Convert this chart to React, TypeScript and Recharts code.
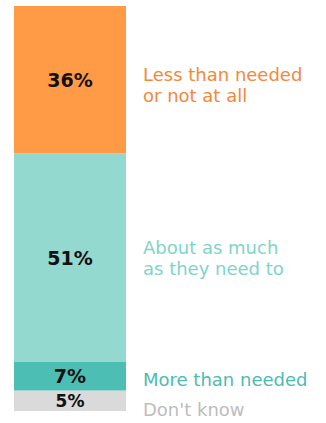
import { BarChart, Bar, XAxis, YAxis, LabelList } from "recharts";

// top to bottom as shown in the bar
const categories = [
  "Less than needed\nor not at all",
  "About as much\nas they need to",
  "More than needed",
  "Don't know",
];
const values = [36, 51, 7, 5];

const fills = ["#FF9A47", "#93D9D0", "#4DBEB3", "#DADADA"];
const textColors = ["#F5883A", "#7FD4CA", "#4DBBB0", "#BDBDBD"];
const labelShift = [5, 0, 3, 9];
const valueSize = [19, 19, 19, 17];

const row: Record<string, string | number> = { name: "all" };
values.forEach((v, i) => {
  row["s" + i] = v;
});
const data = [row];

const total = values.reduce((a, b) => a + b, 0);

function makeLabel(i: number) {
  return (p: any) => {
    const { x, y, width, height } = p;
    const cx = x + width / 2;
    const cy = y + height / 2;
    const lines = categories[i].split("\n");
    const lh = 21;
    const startY = cy + labelShift[i] - ((lines.length - 1) * lh) / 2;
    return (
      <g>
        <text
          x={cx}
          y={cy}
          textAnchor="middle"
          dominantBaseline="central"
          fontFamily="DejaVu Sans"
          fontWeight="bold"
          fontSize={valueSize[i]}
          fill="#111"
        >
          {values[i]}%
        </text>
        <text
          x={x + width + 17}
          fontFamily="DejaVu Sans"
          fontSize={18}
          fill={textColors[i]}
        >
          {lines.map((l, k) => (
            <tspan key={k} x={x + width + 17} y={startY + k * lh} dominantBaseline="central">
              {l}
            </tspan>
          ))}
        </text>
      </g>
    );
  };
}

export default function App() {
  const order = [3, 2, 1, 0];
  return (
    <div style={{ position: "absolute", left: 0, top: 0, width: 326, height: 423, background: "#fff" }}>
      <BarChart
        width={326}
        height={423}
        data={data}
        margin={{ top: 6, right: 200, bottom: 12, left: 14 }}
        barCategoryGap={0}
      >
        <XAxis dataKey="name" hide />
        <YAxis hide domain={[0, total]} />
        {order.map((i) => (
          <Bar
            key={i}
            dataKey={"s" + i}
            stackId="a"
            fill={fills[i]}
            isAnimationActive={false}
          >
            <LabelList dataKey={"s" + i} content={makeLabel(i)} />
          </Bar>
        ))}
      </BarChart>
    </div>
  );
}
